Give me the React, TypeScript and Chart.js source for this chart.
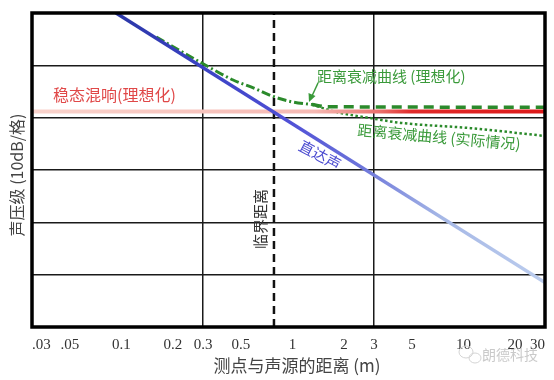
import React, { useEffect, useRef } from "react";
import { Chart, registerables } from "chart.js";

Chart.register(...registerables);

// ---- data ----
const xTicks = [0.03, 0.05, 0.1, 0.2, 0.3, 0.5, 1, 2, 3, 5, 10, 20, 30];
const xTickLabels = [".03", ".05", "0.1", "0.2", "0.3", "0.5", "1", "2", "3", "5", "10", "20", "30"];
const xGridValues = [0.3, 3];

const directR = [0.093, 30];
const directL = [60, 8.5];
const reverbR = [0.03, 30];
const reverbL = [41.2, 41.2];
const idealNearR = [0.16, 0.3, 0.45, 0.6, 0.78, 1.0, 1.3];
const idealNearL = [55.4, 50.3, 47.2, 45.6, 44.0, 43.0, 42.5];
const idealFarR = [1.3, 1.6, 30];
const idealFarL = [42.5, 42.1, 42.0];
const actualR = [1.3, 1.8, 3, 4.3, 11, 30];
const actualL = [42.5, 41.1, 39.8, 39.0, 38.0, 36.5];
const criticalR = [0.78, 0.78];
const criticalL = [0, 60];

const zip = (xs: number[], ys: number[]) => xs.map((x, i) => ({ x, y: ys[i] }));

function hGradient(chart: any, stops: [number, string][]) {
  const area = chart.chartArea;
  if (!area) return stops[stops.length - 1][1];
  const g = chart.ctx.createLinearGradient(area.left, 0, area.right, 0);
  stops.forEach(([o, c]) => g.addColorStop(o, c));
  return g;
}

const blueStops: [number, string][] = [
  [0, "#24309e"],
  [0.16, "#2a36a6"],
  [0.33, "#3a42c4"],
  [0.5, "#5050d6"],
  [0.64, "#6c74da"],
  [0.8, "#a6b8e6"],
  [1, "#bccdee"],
];
const redStops: [number, string][] = [
  [0, "#f9d3cc"],
  [0.55, "#f5b9b3"],
  [0.68, "#ea6e6a"],
  [0.74, "#e02a2a"],
  [1, "#dd1a1a"],
];

const GREEN = "#2b8a2b";
const CJK = "'Noto Sans CJK SC', 'Noto Sans', sans-serif";

const framePlugin = {
  id: "frame",
  afterDatasetsDraw(chart: any) {
    const { ctx, chartArea: a } = chart;
    ctx.save();
    ctx.strokeStyle = "#000";
    ctx.lineWidth = 3.5;
    ctx.strokeRect(a.left, a.top, a.right - a.left, a.bottom - a.top);
    ctx.restore();
  },
};

const textPlugin = {
  id: "texts",
  afterDraw(chart: any) {
    const { ctx } = chart;
    const put = (
      text: string,
      x: number,
      y: number,
      font: string,
      color: string,
      angle = 0,
      align: CanvasTextAlign = "center"
    ) => {
      ctx.save();
      ctx.translate(x, y);
      ctx.rotate((angle * Math.PI) / 180);
      ctx.font = font;
      ctx.fillStyle = color;
      ctx.textAlign = align;
      ctx.textBaseline = "middle";
      ctx.fillText(text, 0, 0);
      ctx.restore();
    };
    put("声压级 (10dB/格)", 17, 175, `16px ${CJK}`, "#444", -90);
    put("测点与声源的距离 (m)", 297, 366, `17px ${CJK}`, "#444");
    put("稳态混响(理想化)", 53, 95, `16px ${CJK}`, "#e04848", 0, "left");
    put("距离衰减曲线 (理想化)", 317, 76, `15px ${CJK}`, "#3a9a3a", 0, "left");
    put("距离衰减曲线 (实际情况)", 439, 137, `15px ${CJK}`, "#3a9a3a", 5);
    put("直达声", 320, 155, `15px ${CJK}`, "#4a4ad0", 28);
    put("临界距离", 260, 219, `15px ${CJK}`, "#333", -90);
    put("朗德科技", 510, 355, `14px ${CJK}`, "#cacaca");

    // arrow to ideal curve
    ctx.save();
    ctx.strokeStyle = "#3a9a3a";
    ctx.fillStyle = "#3a9a3a";
    ctx.lineWidth = 1.5;
    ctx.beginPath();
    ctx.moveTo(318, 83);
    ctx.lineTo(312, 96);
    ctx.stroke();
    ctx.beginPath();
    ctx.moveTo(309, 102);
    ctx.lineTo(308.5, 93);
    ctx.lineTo(315.5, 96);
    ctx.closePath();
    ctx.fill();
    // watermark icon
    ctx.strokeStyle = "#d4d4d4";
    ctx.lineWidth = 1;
    ctx.beginPath();
    ctx.ellipse(466, 352, 7, 6, 0, 0, Math.PI * 2);
    ctx.stroke();
    ctx.beginPath();
    ctx.ellipse(475, 358, 6, 5, 0, 0, Math.PI * 2);
    ctx.stroke();
    ctx.restore();
  },
};

export default function App() {
  const ref = useRef<HTMLCanvasElement | null>(null);
  useEffect(() => {
    if (!ref.current) return;
    const chart = new Chart(ref.current, {
      type: "line",
      data: {
        datasets: [
          {
            data: zip(directR, directL),
            borderColor: (c: any) => hGradient(c.chart, blueStops),
            borderWidth: 3.5,
            pointRadius: 0,
          },
          {
            data: zip(criticalR, criticalL),
            borderColor: "#111",
            borderWidth: 2.5,
            borderDash: [8, 5],
            pointRadius: 0,
          },
          {
            data: zip(reverbR, reverbL),
            borderColor: (c: any) => hGradient(c.chart, redStops),
            borderWidth: 4,
            pointRadius: 0,
          },
          {
            data: zip(actualR, actualL),
            borderColor: GREEN,
            borderWidth: 2.5,
            borderDash: [2.5, 2.5],
            pointRadius: 0,
            cubicInterpolationMode: "monotone",
          },
          {
            data: zip(idealNearR, idealNearL),
            borderColor: GREEN,
            borderWidth: 3,
            borderDash: [9, 3, 2, 3],
            pointRadius: 0,
            cubicInterpolationMode: "monotone",
          },
          {
            data: zip(idealFarR, idealFarL),
            borderColor: GREEN,
            borderWidth: 3.5,
            borderDash: [10, 6],
            pointRadius: 0,
            cubicInterpolationMode: "monotone",
          },
        ] as any,
      },
      options: {
        animation: false,
        responsive: true,
        maintainAspectRatio: false,
        layout: { padding: { left: 32, top: 13, right: 9, bottom: 0 } },
        plugins: { legend: { display: false }, tooltip: { enabled: false } },
        scales: {
          x: {
            type: "logarithmic",
            min: 0.03,
            max: 30,
            afterBuildTicks: (s: any) => {
              s.ticks = xTicks.map((v) => ({ value: v }));
            },
            afterFit: (s: any) => {
              s.height = 53;
            },
            border: { display: false },
            grid: {
              drawTicks: false,
              lineWidth: 1.5,
              color: (c: any) =>
                c.tick && xGridValues.includes(c.tick.value) ? "#1a1a1a" : "rgba(0,0,0,0)",
            },
            ticks: {
              autoSkip: false,
              maxRotation: 0,
              align: "inner",
              padding: 9,
              color: "#333",
              font: { family: "'Liberation Serif', serif", size: 15 },
              callback: (_v: any, i: number) => xTickLabels[i],
            },
          },
          y: {
            type: "linear",
            min: 0,
            max: 60,
            afterFit: (s: any) => {
              s.width = 0;
            },
            border: { display: false },
            grid: {
              drawTicks: false,
              lineWidth: 1.5,
              color: (c: any) =>
                c.tick && c.tick.value > 0 && c.tick.value < 60 ? "#1a1a1a" : "rgba(0,0,0,0)",
            },
            ticks: { display: false, stepSize: 10 },
          },
        },
      } as any,
      plugins: [framePlugin, textPlugin],
    });
    return () => chart.destroy();
  }, []);
  return (
    <div style={{ position: "fixed", left: 0, top: 0, width: 554, height: 380, background: "#fff" }}>
      <canvas ref={ref} />
    </div>
  );
}
